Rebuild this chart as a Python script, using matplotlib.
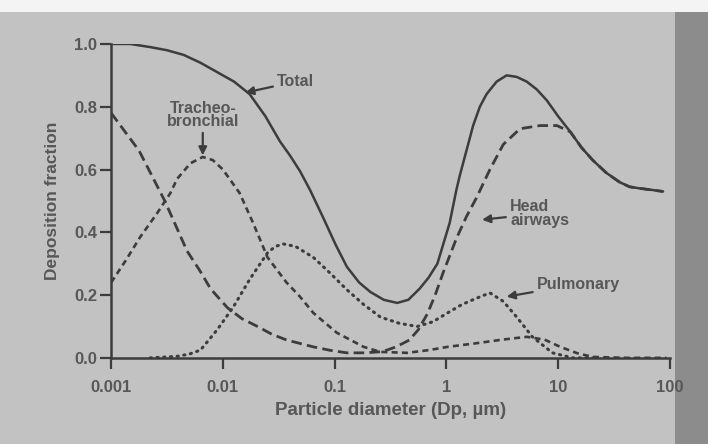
import numpy as np
import matplotlib
matplotlib.use("Agg")
import matplotlib.pyplot as plt
from matplotlib.patches import Rectangle

# ---- data (log10 of particle diameter in um, deposition fraction) ----
total_logd = [-3.0, -2.83, -2.65, -2.50, -2.35, -2.20, -2.05, -1.90, -1.76, -1.62, -1.49,
              -1.40, -1.31, -1.22, -1.10, -0.99, -0.89, -0.78, -0.68, -0.56, -0.44, -0.34,
              -0.24, -0.16, -0.08, 0.03, 0.09, 0.12, 0.18, 0.24, 0.30, 0.36, 0.45, 0.54,
              0.63, 0.72, 0.81, 0.90, 1.00, 1.11, 1.21, 1.31, 1.43, 1.55, 1.64, 1.73, 1.84,
              1.94]
total_val = [1.00, 1.00, 0.99, 0.98, 0.965, 0.94, 0.91, 0.88, 0.84, 0.77, 0.69,
             0.645, 0.595, 0.535, 0.445, 0.36, 0.29, 0.24, 0.21, 0.185, 0.175, 0.185,
             0.22, 0.255, 0.30, 0.43, 0.535, 0.58, 0.66, 0.74, 0.80, 0.84, 0.88, 0.90,
             0.895, 0.88, 0.855, 0.82, 0.77, 0.72, 0.67, 0.63, 0.59, 0.56, 0.545, 0.54,
             0.535, 0.53]

head_logd = [-3.0, -2.75, -2.52, -2.42, -2.32, -2.21, -2.11, -1.96, -1.83, -1.69, -1.56,
             -1.43, -1.19, -1.04, -0.89, -0.73, -0.57, -0.45, -0.33, -0.25, -0.17, -0.10,
             -0.03, 0.09, 0.18, 0.27, 0.39, 0.51, 0.66, 0.84, 0.99, 1.11, 1.21, 1.31, 1.43,
             1.55, 1.64, 1.73, 1.84, 1.94]
head_val = [0.78, 0.66, 0.50, 0.42, 0.34, 0.28, 0.22, 0.16, 0.125, 0.10, 0.075,
            0.057, 0.035, 0.024, 0.016, 0.016, 0.02, 0.035, 0.057, 0.09, 0.14, 0.20,
            0.27, 0.38, 0.45, 0.51, 0.60, 0.68, 0.73, 0.74, 0.74, 0.72, 0.67, 0.63, 0.59,
            0.56, 0.545, 0.54, 0.535, 0.53]

tb_logd = [-3.0, -2.87, -2.74, -2.59, -2.47, -2.41, -2.29, -2.18, -2.09, -2.00, -1.85,
           -1.73, -1.60, -1.43, -1.31, -1.19, -0.98, -0.74, -0.59, -0.35, -0.15, 0.01,
           0.30, 0.50, 0.72, 0.88, 1.02, 1.17, 1.31, 1.62, 1.97]
tb_val = [0.24, 0.31, 0.385, 0.46, 0.525, 0.57, 0.62, 0.64, 0.63, 0.60, 0.525,
          0.43, 0.32, 0.24, 0.195, 0.143, 0.08, 0.035, 0.019, 0.016, 0.025, 0.035,
          0.048, 0.058, 0.067, 0.058, 0.035, 0.015, 0.003, 0.0, 0.0]

pulm_logd = [-2.65, -2.41, -2.30, -2.20, -2.05, -1.91, -1.76, -1.60, -1.53, -1.46, -1.35,
             -1.19, -1.04, -0.89, -0.74, -0.59, -0.42, -0.26, -0.12, 0.01, 0.14, 0.27,
             0.39, 0.51, 0.63, 0.77, 0.95, 1.13, 1.31]
pulm_val = [0.0, 0.005, 0.012, 0.025, 0.09, 0.16, 0.25, 0.335, 0.355, 0.363, 0.355,
            0.32, 0.27, 0.217, 0.17, 0.13, 0.11, 0.10, 0.115, 0.143, 0.17, 0.19,
            0.207, 0.18, 0.13, 0.067, 0.016, 0.0, 0.0]

x_ticks = [0.001, 0.01, 0.1, 1, 10, 100]
x_ticklabels = ["0.001", "0.01", "0.1", "1", "10", "100"]
y_ticks = [0.0, 0.2, 0.4, 0.6, 0.8, 1.0]
y_ticklabels = ["0.0", "0.2", "0.4", "0.6", "0.8", "1.0"]

# ---- style ----
plt.rcParams['font.family'] = ['Liberation Sans', 'DejaVu Sans']
ink = '#3c3c3c'
txt = '#575757'
bg = '#c2c2c2'

fig = plt.figure(figsize=(7.08, 4.44), dpi=100, facecolor=bg)
# scan borders
fig.patches.append(Rectangle((0, 0.972), 1, 0.028, transform=fig.transFigure,
                             facecolor='#f4f4f4', edgecolor='none', zorder=-5))
fig.patches.append(Rectangle((0.953, 0), 0.047, 0.972, transform=fig.transFigure,
                             facecolor='#8c8c8c', edgecolor='none', zorder=-5))

ax = fig.add_axes([0.157, 0.194, 0.789, 0.707])
ax.set_facecolor('none')

lw = 1.8
ax.plot(10 ** np.array(total_logd), total_val, color=ink, lw=lw, ls='-',
        solid_capstyle='round')
ax.plot(10 ** np.array(head_logd), head_val, color=ink, lw=2.0,
        ls=(0, (3.8, 1.9)))
ax.plot(10 ** np.array(tb_logd), tb_val, color=ink, lw=1.9,
        ls=(0, (2.3, 1.6)))
ax.plot(10 ** np.array(pulm_logd), pulm_val, color=ink, lw=2.2,
        ls=(0, (0.4, 1.8)), dash_capstyle='round')

ax.set_xscale('log')
ax.set_xlim(0.001, 100)
ax.set_ylim(0.0, 1.0)
ax.set_xticks(x_ticks)
ax.set_xticklabels(x_ticklabels)
ax.minorticks_off()
ax.set_yticks(y_ticks)
ax.set_yticklabels(y_ticklabels)

for s in ['top', 'right']:
    ax.spines[s].set_visible(False)
for s in ['left', 'bottom']:
    ax.spines[s].set_color(ink)
    ax.spines[s].set_linewidth(1.8)
ax.spines['left'].set_bounds(0, 1.0)
ax.tick_params(axis='x', direction='out', length=8, width=1.6, color=ink,
               labelcolor=txt, labelsize=12, pad=8)
ax.tick_params(axis='y', direction='out', length=8, width=1.6, color=ink,
               labelcolor=txt, labelsize=12, pad=2)
for lab in ax.get_xticklabels() + ax.get_yticklabels():
    lab.set_fontweight('bold')

ax.set_xlabel('Particle diameter (Dp, µm)', fontsize=13.5, fontweight='bold',
              color=txt, labelpad=5)
ax.set_ylabel('Deposition fraction', fontsize=12.5, fontweight='bold',
              color=txt, labelpad=10)

ann = dict(fontsize=11.5, fontweight='bold', color=txt)
arr = dict(arrowstyle='-|>', color=ink, lw=1.6, mutation_scale=12,
           shrinkA=1, shrinkB=0)
ax.annotate('Total', xy=(10 ** -1.80, 0.845), xytext=(10 ** -1.515, 0.88),
            ha='left', va='center', arrowprops=arr, **ann)
ax.annotate('Tracheo-\nbronchial', xy=(10 ** -2.18, 0.645),
            xytext=(10 ** -2.18, 0.73), ha='center', va='bottom',
            linespacing=0.85, arrowprops=arr, **ann)
ax.annotate('Head\nairways', xy=(10 ** 0.32, 0.44), xytext=(10 ** 0.57, 0.46),
            ha='left', va='center', linespacing=0.85, arrowprops=arr, **ann)
ax.annotate('Pulmonary', xy=(10 ** 0.54, 0.195), xytext=(10 ** 0.81, 0.235),
            ha='left', va='center', arrowprops=arr, **ann)

fig.savefig('out.png', dpi=100, facecolor=fig.get_facecolor())
